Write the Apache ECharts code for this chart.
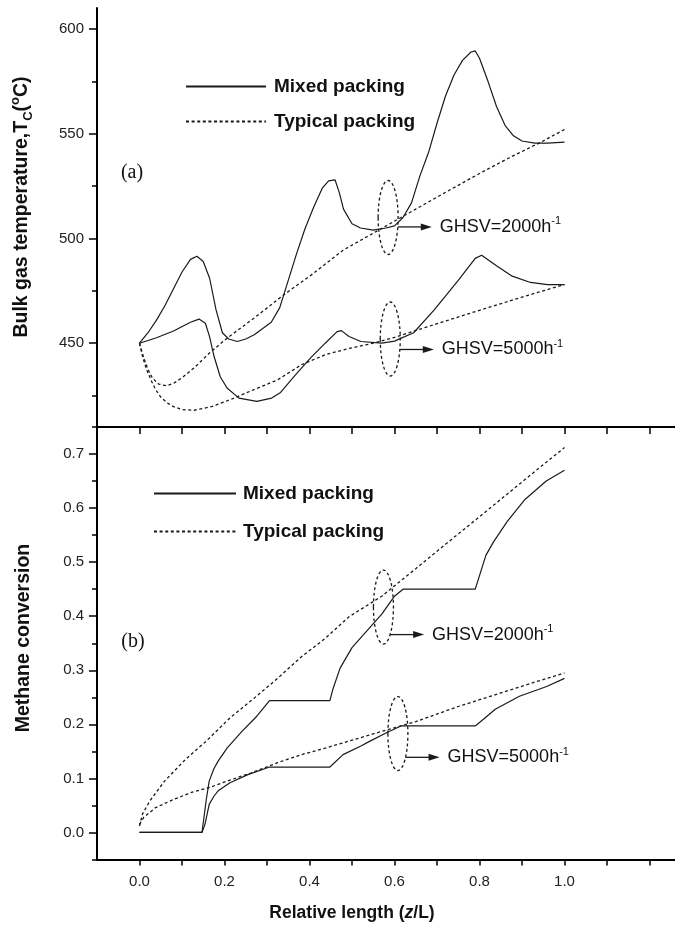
<!DOCTYPE html>
<html>
<head>
<meta charset="utf-8">
<script src="https://cdn.jsdelivr.net/npm/echarts@6/dist/echarts.min.js"></script>
<style>
html, body { margin: 0; padding: 0; background: #fff; }
#chart { width: 675px; height: 927px; }
</style>
</head>
<body>
<div id="chart"></div>
<script>
// ---- (a) bulk gas temperature along the bed ----
const zMixed2000T = [0, 0.02, 0.04, 0.06, 0.08, 0.10, 0.12, 0.135, 0.15, 0.165, 0.18, 0.195, 0.21, 0.23, 0.25, 0.27, 0.29, 0.31, 0.33, 0.35, 0.37, 0.39, 0.41, 0.43, 0.445, 0.46, 0.47, 0.48, 0.50, 0.52, 0.55, 0.58, 0.60, 0.62, 0.64, 0.66, 0.68, 0.70, 0.72, 0.74, 0.76, 0.78, 0.79, 0.80, 0.82, 0.84, 0.86, 0.88, 0.90, 0.93, 0.96, 1.0];
const tMixed2000 = [450, 455, 461, 468, 476, 484, 490, 491.5, 489, 481, 466, 455, 452, 450.8, 452, 454, 457, 460, 467, 480, 493, 505, 515, 524, 527.5, 528, 522, 514, 507, 505, 504, 505, 506, 510, 517, 530, 541, 555, 568, 578, 585, 589, 589.5, 586, 575, 563, 554, 549, 546.5, 545.5, 545.5, 546];

const zTypical2000T = [0, 0.01, 0.02, 0.03, 0.045, 0.063, 0.08, 0.10, 0.13, 0.164, 0.206, 0.269, 0.339, 0.409, 0.479, 0.57, 0.65, 0.72, 0.80, 0.87, 0.94, 1.0];
const tTypical2000 = [450, 443, 437.5, 433.5, 430.5, 429.7, 430.8, 433.5, 438.5, 445.2, 452.4, 461.9, 473, 483.3, 494.4, 504.8, 514, 522, 531, 538.5, 545.5, 552];

const zMixed5000T = [0, 0.04, 0.08, 0.12, 0.14, 0.155, 0.165, 0.175, 0.19, 0.206, 0.234, 0.276, 0.311, 0.332, 0.367, 0.402, 0.437, 0.465, 0.475, 0.493, 0.521, 0.57, 0.60, 0.645, 0.694, 0.75, 0.79, 0.805, 0.84, 0.877, 0.92, 0.96, 1.0];
const tMixed5000 = [450, 452.6, 455.8, 460, 461.5, 459.5, 453, 444, 434, 428.6, 423.8, 422.2, 423.8, 426.5, 434.9, 442.9, 450, 455.5, 456, 453.2, 450.8, 450, 451, 455, 466, 480, 490.5, 492, 487, 482, 479, 478, 478];

const zTypical5000T = [0, 0.008, 0.017, 0.028, 0.038, 0.05, 0.066, 0.08, 0.101, 0.129, 0.171, 0.213, 0.269, 0.325, 0.381, 0.437, 0.493, 0.55, 0.60, 0.70, 0.80, 0.90, 1.0];
const tTypical5000 = [450, 443, 437.3, 432, 427.8, 424.3, 421.4, 419.7, 418.3, 418, 419.8, 423, 427.8, 432.5, 439.7, 444.5, 447.5, 450, 452.8, 459.3, 465.7, 472, 478];

// ---- (b) methane conversion along the bed ----
const zMixed2000X = [0, 0.147, 0.152, 0.157, 0.164, 0.175, 0.185, 0.206, 0.241, 0.276, 0.306, 0.448, 0.455, 0.472, 0.50, 0.535, 0.57, 0.60, 0.62, 0.79, 0.80, 0.815, 0.833, 0.865, 0.907, 0.957, 1.0];
const xMixed2000 = [0, 0, 0.03, 0.06, 0.095, 0.118, 0.132, 0.156, 0.187, 0.215, 0.244, 0.244, 0.265, 0.304, 0.342, 0.373, 0.404, 0.437, 0.45, 0.45, 0.475, 0.5125, 0.5375, 0.575, 0.616, 0.65, 0.67];

const zTypical2000X = [0, 0.007, 0.024, 0.059, 0.108, 0.157, 0.213, 0.269, 0.325, 0.381, 0.437, 0.493, 0.57, 0.65, 0.72, 0.80, 0.87, 0.94, 1.0];
const xTypical2000 = [0.012, 0.034, 0.058, 0.095, 0.135, 0.169, 0.212, 0.248, 0.285, 0.325, 0.359, 0.399, 0.437, 0.488, 0.533, 0.584, 0.629, 0.674, 0.712];

const zMixed5000X = [0, 0.147, 0.154, 0.164, 0.175, 0.185, 0.213, 0.255, 0.306, 0.448, 0.479, 0.521, 0.54, 0.58, 0.615, 0.79, 0.81, 0.837, 0.894, 0.958, 1.0];
const xMixed5000 = [0, 0, 0.015, 0.052, 0.067, 0.077, 0.092, 0.107, 0.121, 0.121, 0.144, 0.16, 0.168, 0.184, 0.197, 0.197, 0.21, 0.228, 0.252, 0.27, 0.285];

const zTypical5000X = [0, 0.01, 0.038, 0.08, 0.122, 0.164, 0.206, 0.262, 0.325, 0.381, 0.437, 0.493, 0.57, 0.65, 0.75, 0.85, 0.93, 1.0];
const xTypical5000 = [0.015, 0.028, 0.046, 0.061, 0.074, 0.083, 0.095, 0.11, 0.129, 0.144, 0.156, 0.169, 0.187, 0.205, 0.233, 0.258, 0.278, 0.295];

// ---- axis ticks ----
const zTicks = [0, 0.1, 0.2, 0.3, 0.4, 0.5, 0.6, 0.7, 0.8, 0.9, 1.0, 1.1, 1.2];
const zLabels = [0, 0.2, 0.4, 0.6, 0.8, 1.0];
const tMajor = [450, 500, 550, 600];
const tMinor = [425, 475, 525, 575];
const xMajor = [0, 0.1, 0.2, 0.3, 0.4, 0.5, 0.6, 0.7];
const xMinor = [-0.05, 0.05, 0.15, 0.25, 0.35, 0.45, 0.55, 0.65, 0.75];

// ---- space-velocity call-outs: ellipse centre and arrow level (data units) ----
const notesTop = [
  { z: 0.585, v: 510, arrow: 505.5, text: '2000' },
  { z: 0.59, v: 452, arrow: 447, text: '5000' }
];
const notesBottom = [
  { z: 0.574, v: 0.417, arrow: 0.366, text: '2000' },
  { z: 0.608, v: 0.183, arrow: 0.139, text: '5000' }
];

const INK = '#1a1a1a';
const FONT = 'Arial, "Liberation Sans", sans-serif';

function pairs(xs, ys) { return xs.map((x, i) => [x, ys[i]]); }

function lineSeries(name, xs, ys, xi, yi, dashed) {
  return {
    type: 'line', name: name, xAxisIndex: xi, yAxisIndex: yi,
    data: pairs(xs, ys), symbol: 'none', smooth: false, silent: true,
    lineStyle: { color: INK, width: dashed ? 1.3 : 1.2, type: dashed ? [3, 2.6] : 'solid' },
    itemStyle: { color: INK }
  };
}

function noteSeries(notes, xi, yi) {
  return {
    type: 'custom', xAxisIndex: xi, yAxisIndex: yi, silent: true, clip: false,
    data: notes.map(n => [n.z, n.v, n.arrow]),
    renderItem: function (params, api) {
      const c = api.coord([api.value(0), api.value(1)]);
      const ay = api.coord([api.value(0), api.value(2)])[1];
      const rx = 10, ry = 37;
      const dy = ay - c[1];
      const x0 = c[0] + rx * Math.sqrt(Math.max(0, 1 - (dy * dy) / (ry * ry)));
      const x1 = x0 + 34;
      const label = notes[params.dataIndex].text;
      return {
        type: 'group',
        children: [
          { type: 'ellipse', shape: { cx: c[0], cy: c[1], rx: rx, ry: ry },
            style: { fill: 'none', stroke: INK, lineWidth: 1.3, lineDash: [3, 2.6] } },
          { type: 'line', shape: { x1: x0, y1: ay, x2: x1 - 8, y2: ay },
            style: { stroke: INK, lineWidth: 1.3 } },
          { type: 'polygon', shape: { points: [[x1, ay], [x1 - 11, ay - 3.5], [x1 - 11, ay + 3.5]] },
            style: { fill: INK } },
          { type: 'text', x: x1 + 8, y: ay,
            style: {
              text: 'GHSV=' + label + 'h{s|-1}',
              fill: '#111', font: '18px ' + FONT, verticalAlign: 'middle', align: 'left',
              lineHeight: 22,
              rich: { s: { fontSize: 11, verticalAlign: 'top', lineHeight: 11, fill: '#111', fontFamily: FONT } }
            } }
        ]
      };
    }
  };
}

const axisLine = { show: true, onZero: false, lineStyle: { color: '#000', width: 2 } };
const tickLabel = { color: '#222', fontSize: 15, fontFamily: FONT };
const legendText = { fontSize: 19, fontWeight: 'bold', color: '#111', fontFamily: FONT, lineHeight: 14 };

const chart = echarts.init(document.getElementById('chart'), null, { renderer: 'canvas' });

chart.setOption({
  animation: false,
  backgroundColor: '#fff',
  grid: [
    { left: 97, right: 0, top: 8, bottom: 500, containLabel: false },
    { left: 97, right: 0, top: 427, bottom: 67.5, containLabel: false }
  ],
  xAxis: [
    { type: 'value', gridIndex: 0, min: -0.1, max: 1.26, show: false },
    { type: 'value', gridIndex: 1, min: -0.1, max: 1.26, position: 'bottom',
      axisLine: axisLine, splitLine: { show: false },
      axisTick: { show: true, inside: false, length: 6, customValues: zTicks, lineStyle: { color: '#000', width: 1.5 } },
      axisLabel: Object.assign({ show: true, margin: 15, customValues: zLabels, formatter: v => v.toFixed(1) }, tickLabel) },
    { type: 'value', gridIndex: 1, min: -0.1, max: 1.26, position: 'top',
      axisLine: axisLine, splitLine: { show: false },
      axisTick: { show: true, inside: true, length: 7, customValues: zTicks, lineStyle: { color: '#000', width: 1.5 } },
      axisLabel: { show: false } }
  ],
  yAxis: [
    { type: 'value', gridIndex: 0, min: 410, max: 610, position: 'left',
      axisLine: axisLine, splitLine: { show: false },
      axisTick: { show: true, length: 8, customValues: tMajor, lineStyle: { color: '#000', width: 1.5 } },
      axisLabel: Object.assign({ show: true, margin: 13, customValues: tMajor }, tickLabel) },
    { type: 'value', gridIndex: 0, min: 410, max: 610, position: 'left',
      axisLine: { show: false, onZero: false }, splitLine: { show: false },
      axisTick: { show: true, length: 5, customValues: tMinor, lineStyle: { color: '#000', width: 1.5 } },
      axisLabel: { show: false } },
    { type: 'value', gridIndex: 1, min: -0.05, max: 0.75, position: 'left',
      axisLine: axisLine, splitLine: { show: false },
      axisTick: { show: true, length: 8, customValues: xMajor, lineStyle: { color: '#000', width: 1.5 } },
      axisLabel: Object.assign({ show: true, margin: 13, customValues: xMajor, formatter: v => v.toFixed(1) }, tickLabel) },
    { type: 'value', gridIndex: 1, min: -0.05, max: 0.75, position: 'left',
      axisLine: { show: false, onZero: false }, splitLine: { show: false },
      axisTick: { show: true, length: 5, customValues: xMinor, lineStyle: { color: '#000', width: 1.5 } },
      axisLabel: { show: false } }
  ],
  legend: [
    { data: ['Mixed packing', 'Typical packing'], orient: 'vertical', left: 180, top: 72,
      itemWidth: 80, itemHeight: 14, itemGap: 16, selectedMode: false,
      itemStyle: { opacity: 0, borderWidth: 0 },
      textStyle: Object.assign({ padding: [0, 0, 0, 3] }, legendText) },
    { data: ['Mixed packing', 'Typical packing'], orient: 'vertical', left: 148, top: 479,
      itemWidth: 82, itemHeight: 14, itemGap: 19, selectedMode: false,
      itemStyle: { opacity: 0, borderWidth: 0 },
      textStyle: Object.assign({ padding: [0, 0, 0, 2] }, legendText) }
  ],
  graphic: [
    { type: 'text', x: 22, y: 207, rotation: Math.PI / 2,
      style: { text: 'Bulk gas temperature,T{sub|C}({sup|o}C)', font: 'bold 19.5px ' + FONT, fill: '#111',
        align: 'center', verticalAlign: 'middle', lineHeight: 26,
        rich: {
          sub: { fontSize: 13, fontWeight: 'bold', verticalAlign: 'bottom', lineHeight: 13, fontFamily: FONT, fill: '#111' },
          sup: { fontSize: 13, fontWeight: 'bold', verticalAlign: 'top', lineHeight: 13, fontFamily: FONT, fill: '#111' }
        } } },
    { type: 'text', x: 24, y: 638, rotation: Math.PI / 2,
      style: { text: 'Methane conversion', font: 'bold 19.5px ' + FONT, fill: '#111', align: 'center', verticalAlign: 'middle' } },
    { type: 'text', x: 352, y: 913,
      style: { text: 'Relative length ({i|z}/L)', font: 'bold 17.5px ' + FONT, fill: '#111', align: 'center', verticalAlign: 'middle',
        rich: { i: { fontSize: 17.5, fontWeight: 'bold', fontStyle: 'italic', fontFamily: FONT, fill: '#111' } } } },
    { type: 'text', x: 132, y: 173,
      style: { text: '(a)', font: '20px "Liberation Serif", "Times New Roman", serif', fill: '#111', align: 'center', verticalAlign: 'middle' } },
    { type: 'text', x: 133, y: 642,
      style: { text: '(b)', font: '20px "Liberation Serif", "Times New Roman", serif', fill: '#111', align: 'center', verticalAlign: 'middle' } }
  ],
  series: [
    lineSeries('Mixed packing', zMixed2000T, tMixed2000, 0, 0, false),
    lineSeries('Typical packing', zTypical2000T, tTypical2000, 0, 0, true),
    lineSeries('Mixed packing', zMixed5000T, tMixed5000, 0, 0, false),
    lineSeries('Typical packing', zTypical5000T, tTypical5000, 0, 0, true),
    lineSeries('Mixed packing', zMixed2000X, xMixed2000, 1, 2, false),
    lineSeries('Typical packing', zTypical2000X, xTypical2000, 1, 2, true),
    lineSeries('Mixed packing', zMixed5000X, xMixed5000, 1, 2, false),
    lineSeries('Typical packing', zTypical5000X, xTypical5000, 1, 2, true),
    noteSeries(notesTop, 0, 0),
    noteSeries(notesBottom, 1, 2)
  ]
});
</script>
</body>
</html>
